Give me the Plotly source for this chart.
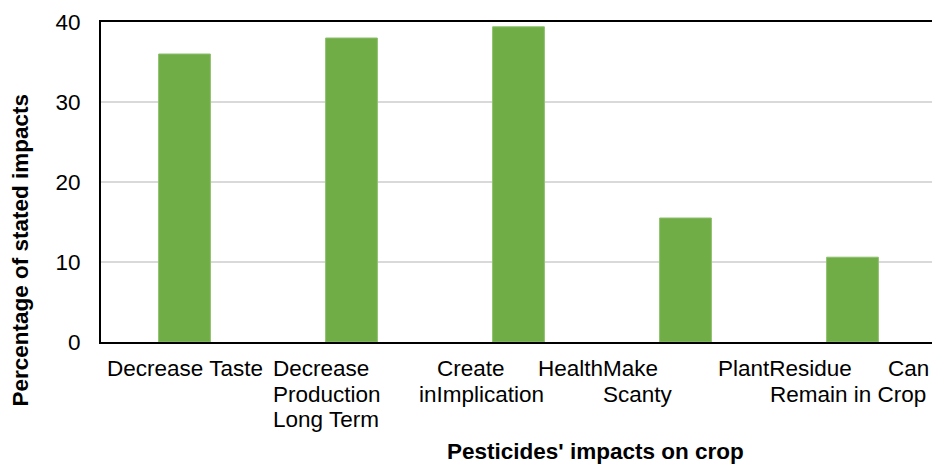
import plotly.graph_objects as go

# ---- data ----
categories = ["Decrease Taste", "Decrease Production in Long Term",
              "Create Health Implication", "Make Plant Scanty",
              "Residue Can Remain in Crop"]
values = [36.0, 38.0, 39.4, 15.5, 10.6]
y_ticks = [0, 10, 20, 30, 40]

# category label fragments as they appear under the axis
label_fragments = ["Decrease Taste", "Decrease", "Create", "HealthMake", "PlantResidue", "Can",
                   "Production", "inImplication", "Scanty", "Remain in Crop",
                   "Long Term"]
x_title = "Pesticides' impacts on crop"
y_title = "Percentage of stated impacts"

# ---- layout constants (screen pixels; page body has an 8px margin) ----
OFF = 8
W, H = 940 - OFF, 466 - OFF
L, R, T, B = 101 - OFF, 938 - OFF, 21 - OFF, 342 - OFF
frag_pos = [(105, 0), (271, 0), (436, 0), (537, 0), (717, 0), (888, 0),
            (271, 1), (418, 1), (602, 1), (770, 1),
            (271, 2)]
line_mid = [369, 395, 420]
FS = 22.5

def px_x(px):
    return (px - OFF - L) / (R - L)

def px_y(py):
    return (B - (py - OFF)) / (B - T)

FONT = "Liberation Sans, Arial, sans-serif"

fig = go.Figure(go.Bar(
    x=list(range(len(categories))), y=values, width=0.31,
    marker=dict(color="#70AD47", line=dict(color="#8CC06A", width=1)),
    hovertext=categories,
))

ann = []
for text, (px, ln) in zip(label_fragments, frag_pos):
    ann.append(dict(text=text, xref="paper", yref="paper", x=px_x(px), y=px_y(line_mid[ln]),
                    xanchor="left", yanchor="middle", showarrow=False,
                    font=dict(family=FONT, size=FS, color="#000000")))
ann.append(dict(text="<b>" + x_title + "</b>", xref="paper", yref="paper",
                x=px_x(597), y=px_y(452), xanchor="center", yanchor="middle",
                showarrow=False, font=dict(family=FONT, size=FS, color="#000000")))
ann.append(dict(text="<b>" + y_title + "</b>", xref="paper", yref="paper",
                x=px_x(20), y=px_y(250), xanchor="center", yanchor="middle",
                textangle=-90, showarrow=False,
                font=dict(family=FONT, size=FS, color="#000000")))

fig.update_layout(
    width=W, height=H,
    margin=dict(l=L, r=W - R, t=T, b=H - B, pad=0),
    plot_bgcolor="white", paper_bgcolor="white",
    showlegend=False,
    annotations=ann,
    xaxis=dict(range=[-0.5, len(categories) - 0.5], showticklabels=False,
               showgrid=False, zeroline=False, showline=True, linecolor="#000000",
               linewidth=2, mirror=True, ticks=""),
    yaxis=dict(range=[0, 40], tickvals=y_ticks, showgrid=True, gridcolor="#D9D9D9",
               gridwidth=1.5, zeroline=False, showline=True, linecolor="#000000",
               linewidth=2, mirror=True, ticks="", ticklabelstandoff=14,
               tickfont=dict(family=FONT, size=FS, color="#000000")),
)

fig.write_html("out.html")
